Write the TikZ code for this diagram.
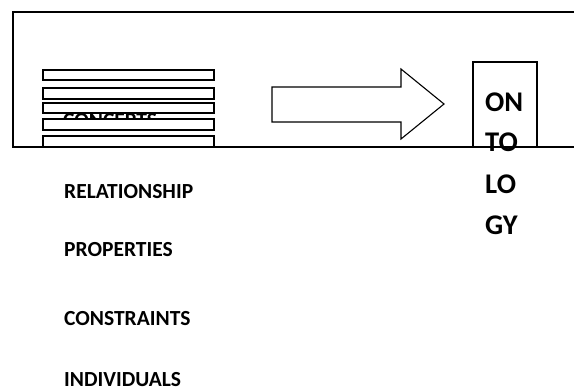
\documentclass[tikz,border=0pt]{standalone}
\usepackage{fontspec}
\setmainfont{Carlito}
\begin{document}
\begin{tikzpicture}[x=1pt,y=-1pt,
  frameline/.style={draw=black,line width=1.1pt},
  listbar/.style={draw=black,fill=white,line width=1.3pt},
  bigarrow/.style={draw=black,fill=white,line width=1.1pt},
  ontbox/.style={draw=black,line width=1.1pt},
  itemlabel/.style={anchor=base west,inner sep=0pt,font=\bfseries\fontsize{21.5}{26}\selectfont},
  ontlabel/.style={anchor=base west,inner sep=0pt,font=\bfseries\fontsize{28.5}{34}\selectfont}]
  \useasboundingbox (0,0) rectangle (574,391);
  % open frame around the top band
  \draw[frameline] (574,12) -- (13,12) -- (13,147) -- (574,147);
  % list entries; the first one sits behind the stacked bars
  \node[itemlabel] (concepts) at (63,127) {CONCEPTS};
  \node[itemlabel] (relationship) at (64,198) {RELATIONSHIP};
  \node[itemlabel] (properties) at (64,256) {PROPERTIES};
  \node[itemlabel] (constraints) at (64,325) {CONSTRAINTS};
  \node[itemlabel] (individuals) at (64,386) {INDIVIDUALS};
  % stacked bars
  \draw[listbar] (43,70) rectangle (214,80);
  \draw[listbar] (43,88) rectangle (214,99);
  \draw[listbar] (43,103) rectangle (214,113);
  \draw[listbar] (43,119) rectangle (214,130);
  \draw[listbar] (43,136) rectangle (214,147);
  % block arrow
  \draw[bigarrow] (272,87) -- (401,87) -- (401,69) -- (444,104) -- (401,139)
    -- (401,122) -- (272,122) -- cycle;
  % ontology box and its wrapped word
  \draw[ontbox] (473,147) -- (473,62) -- (537,62) -- (537,147);
  \node[ontlabel] (ont1) at (485,111) {ON};
  \node[ontlabel] (ont2) at (485,151) {TO};
  \node[ontlabel] (ont3) at (485,193) {LO};
  \node[ontlabel] (ont4) at (485,234) {GY};
\end{tikzpicture}
\end{document}
